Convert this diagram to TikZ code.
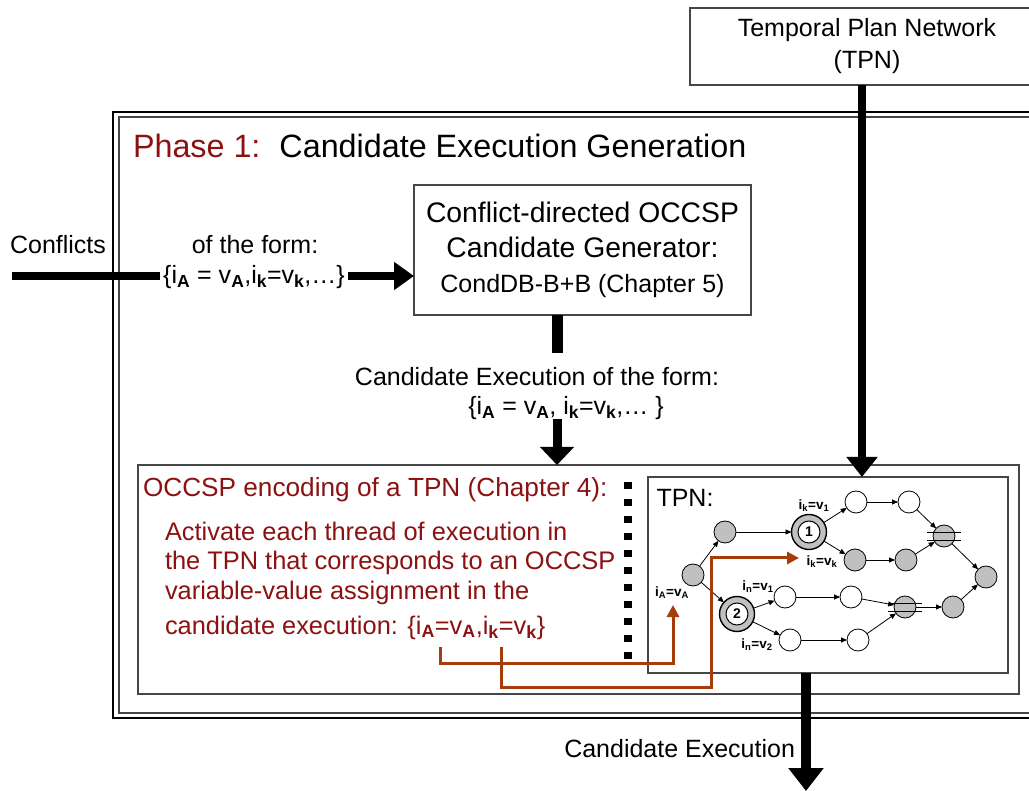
\documentclass[tikz,border=0pt]{standalone}
\usepackage{fontspec}
\setmainfont{Liberation Sans}
\usetikzlibrary{arrows.meta}

\definecolor{phasered}{RGB}{140,18,18}
\definecolor{linkbrown}{RGB}{165,60,10}
\definecolor{nodegray}{RGB}{192,192,192}
\definecolor{framegray}{RGB}{70,70,70}

% bold subscript used in the assignment sets
\newcommand\sbb[1]{\textsubscript{\bfseries #1}}

\tikzset{
  every node/.style={inner sep=0pt, outer sep=0pt},
  lbl/.style={font=\fontsize{25}{30}\selectfont},
  redlbl/.style={font=\fontsize{25.4}{30}\selectfont, text=phasered},
  panel/.style={draw=framegray, line width=1.5pt, fill=white, rectangle},
  pipe/.style={line width=#1, line cap=butt},
  gnode/.style={circle, draw, line width=0.8pt, fill=nodegray, minimum size=22pt},
  wnode/.style={gnode, fill=white},
  cnode/.style={circle, draw, line width=1.4pt, fill=nodegray, minimum size=35pt},
  cinner/.style={circle, draw, line width=1pt, fill=white, minimum size=22pt,
                 font=\bfseries\fontsize{14}{14}\selectfont},
  flow/.style={line width=0.8pt, -{Triangle[width=5pt,length=6pt]}},
  tiny/.style={font=\bfseries\fontsize{13.5}{13.5}\selectfont},
  link/.style={draw=linkbrown, line width=3pt, line join=miter,
               -{Triangle[width=12pt,length=12pt]}},
}

\begin{document}
\begin{tikzpicture}[x=1pt,y=-1pt]
\clip (0,0) rectangle (1029,791);

% Phase 1 double frame
\draw[line width=2.5pt] (113,112) rectangle (1045,718);
\draw[framegray, line width=1.5pt] (119,117) rectangle (1040,713);

% boxes
\node[panel, align=center, font=\fontsize{25}{32}\selectfont,
      minimum width=354pt, minimum height=77pt] (tpnsrc) at (867,46.5)
      {Temporal Plan Network\\(TPN)};
\node[panel, align=center, font=\fontsize{28.3}{35}\selectfont,
      minimum width=337pt, minimum height=130pt] (gen) at (582.5,250)
      {Conflict-directed OCCSP\\Candidate Generator:\\
       {\fontsize{25}{35}\selectfont CondDB-B+B (Chapter 5)}};
\node[panel, minimum width=881pt, minimum height=229pt] (occ) at (578.5,579.5) {};
\node[panel, minimum width=360pt, minimum height=196pt] (tpnbox) at (828,575) {};

% title
\node[anchor=base west, font=\fontsize{32.3}{36}\selectfont] (title) at (133,158)
  {\textcolor{phasered}{Phase 1:}\hspace{19pt}Candidate Execution Generation};

% conflicts input
\coordinate (cin) at (12,276);
\draw[pipe=8pt, -{Triangle[width=27pt,length=20pt]}] (cin) -- (cin -| gen.west);
\node[lbl] (conf) at (58,245) {Conflicts};
\node[lbl] (form1) at (255,245) {of the form:};
\node[lbl, fill=white, inner xsep=3pt, inner ysep=2pt] (set1) at (254,277)
  {\{i\sbb{A} = v\sbb{A},i\sbb{k}=v\sbb{k},\ldots\}};

% generator output
\coordinate (gmid) at (557,353);
\draw[pipe=11pt] (gmid |- gen.south) -- (gmid);
\node[lbl] (ce) at (537,377) {Candidate Execution of the form:};
\node[lbl] (ceset) at (566,408) {\{i\sbb{A} = v\sbb{A}, i\sbb{k}=v\sbb{k},\ldots\ \}};
\coordinate (cestem) at (557,419);
\draw[pipe=9pt, -{Triangle[width=33pt,length=18pt]}] (cestem) -- (cestem |- occ.north);

% TPN input
\coordinate (tdown) at (862,0);
\draw[pipe=8pt, -{Triangle[width=30pt,length=20pt]}] (tdown |- tpnsrc.south) -- (tdown |- tpnbox.north);

% output
\coordinate (out) at (806,791);
\draw[pipe=10pt, -{Triangle[width=34pt,length=23pt]}] (out |- tpnbox.south) -- (out);
\node[lbl, anchor=east] (celbl) at (795,749) {Candidate Execution};

% separator
\coordinate (septop) at (628,482);
\coordinate (sepbot) at (628,663);
\draw[line width=8pt, dash pattern=on 7pt off 10pt] (septop) -- (sepbot);

% encoding text
\node[redlbl, font=\fontsize{26.2}{30}\selectfont, anchor=base west] (enc) at (143,497)
  {OCCSP encoding of a TPN (Chapter 4):};
\node[redlbl, anchor=base west] (p1) at (165,541) {Activate each thread of execution in};
\node[redlbl, anchor=base west] (p2) at (165,569) {the TPN that corresponds to an OCCSP};
\node[redlbl, anchor=base west] (p3) at (165,599) {variable-value assignment in the};
\node[redlbl, anchor=base west] (p4) at (165,634)
  {candidate execution: \{i\sbb{A}=v\sbb{A},i\sbb{k}=v\sbb{k}\}};

% TPN graph
\node[lbl] (tpnlbl) at (685,498) {TPN:};
\node[gnode] (a) at (693,575) {};
\node[gnode] (b) at (725,532) {};
\node[cnode] (n1) at (809,532) {};
\node[cinner] (n1i) at (n1) {1};
\node[wnode] (w1) at (856,502) {};
\node[wnode] (w2) at (909,502) {};
\node[gnode] (x1) at (944,536) {};
\node[gnode] (g1) at (855,560) {};
\node[gnode] (g2) at (906,560) {};
\node[gnode] (f) at (986,577) {};
\node[cnode] (n2) at (737,614) {};
\node[cinner] (n2i) at (n2) {2};
\node[wnode] (w3) at (785,597) {};
\node[wnode] (w4) at (851,597) {};
\node[gnode] (x2) at (905,607) {};
\node[gnode] (g4) at (953,607) {};
\node[wnode] (w5) at (790,640) {};
\node[wnode] (w6) at (858,640) {};

\foreach \n in {x1,x2} {
  \draw[line width=0.8pt] ([xshift=-17pt,yshift=4pt]\n.center) -- ([xshift=17pt,yshift=4pt]\n.center);
  \draw[line width=0.8pt] ([xshift=-17pt,yshift=-4pt]\n.center) -- ([xshift=17pt,yshift=-4pt]\n.center);
}

\foreach \s/\t in {a/b, a/n2, b/n1, n1/w1, n1/g1, w1/w2, w2/x1, g1/g2, g2/x1, x1/f,
                   n2/w3, n2/w5, w3/w4, w4/x2, w5/w6, w6/x2, x2/g4, g4/f}
  \draw[flow] (\s) -- (\t);

\node[tiny] (lk1) at (814,506) {i\sbb{k}=v\sbb{1}};
\node[tiny] (lkk) at (822,562) {i\sbb{k}=v\sbb{k}};
\node[tiny] (lA) at (672,593) {i\sbb{A}=v\sbb{A}};
\node[tiny] (ln1) at (758,587) {i\sbb{n}=v\sbb{1}};
\node[tiny] (ln2) at (757,645) {i\sbb{n}=v\sbb{2}};

% assignment links
\coordinate (eqA) at (440,647);
\coordinate (cornA) at (673,663);
\coordinate (tipA) at (673,605);
\draw[link] (eqA) |- (cornA) -- (tipA);
\coordinate (eqK) at (501,647);
\coordinate (cornK1) at (711,687);
\coordinate (cornK2) at (711,558);
\coordinate (tipK) at (799,558);
\draw[link] (eqK) |- (cornK1) -- (cornK2) -- (tipK);
\end{tikzpicture}
\end{document}
